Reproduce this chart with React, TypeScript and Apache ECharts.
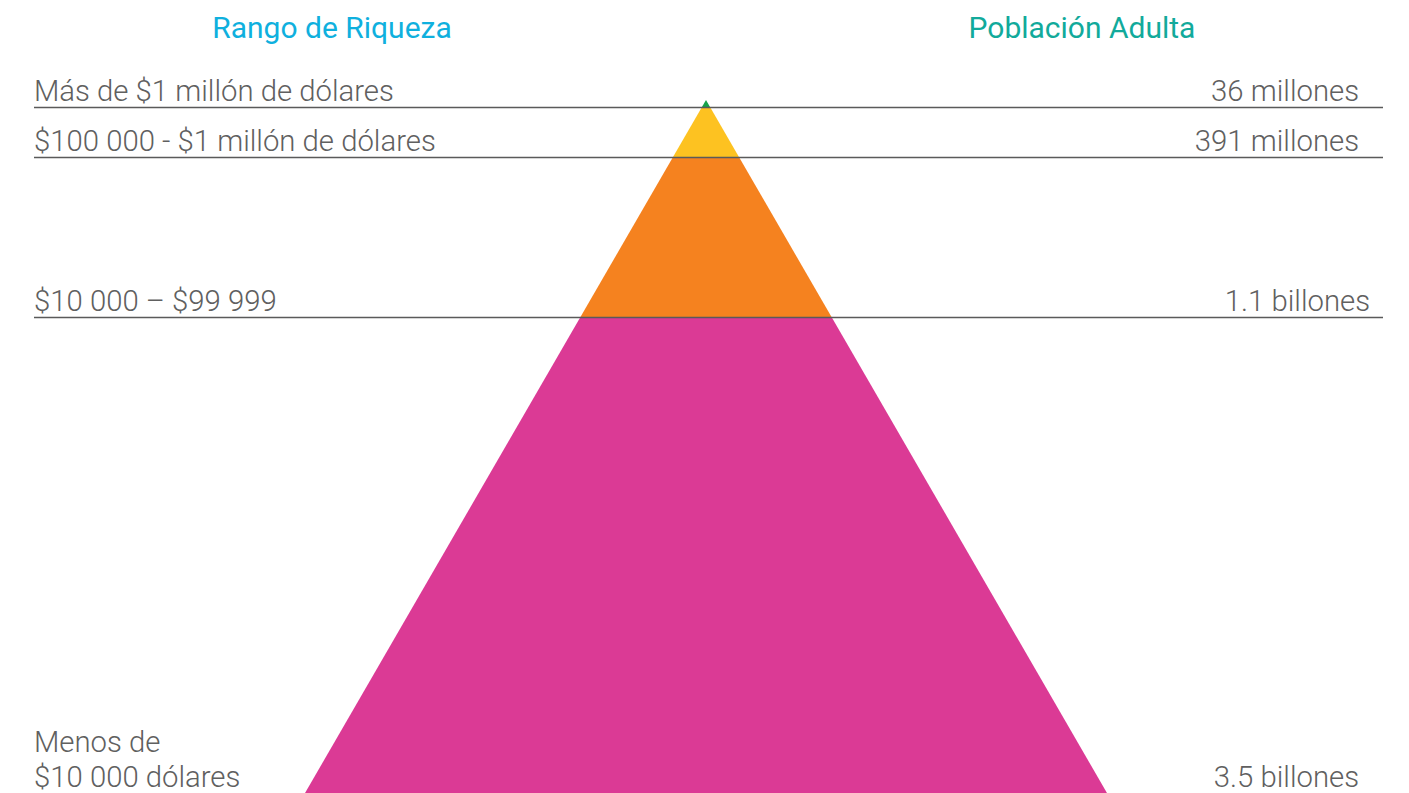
import React, { useEffect, useRef } from "react";
import * as echarts from "echarts";

// Wealth ranges (left labels), from top of the pyramid to the base
const wealthRanges = [
  "Más de $1 millón de dólares",
  "$100 000 - $1 millón de dólares",
  "$10 000 – $99 999",
  "Menos de\n$10 000 dólares",
];
// Adult population per range (right labels)
const adultPopulation = ["36 millones", "391 millones", "1.1 billones", "3.5 billones"];
// Visual thickness of each pyramid layer
const layerHeights = [7, 50, 160, 476];
const layerColors = ["#17a24a", "#fdc221", "#f5821f", "#db3a95"];
// Offset of the right label's right edge from the separator line end
const rightLabelShift = [0, 0, 11, 0];

const headers = ["Rango de Riqueza", "Población Adulta"];

const SLOPE = 0.5786; // half-width per unit of depth
const FONT = "Roboto";
const TEXT_COLOR = "#606060";

export default function App() {
  const ref = useRef<HTMLDivElement>(null);

  useEffect(() => {
    if (!ref.current) return;
    const chart = echarts.init(ref.current, undefined, { renderer: "svg" });

    let acc = 0;
    const data = layerHeights.map((h, i) => {
      const start = acc;
      acc += h;
      return [start, acc, i];
    });
    const total = acc;

    const renderItem = (params: any, api: any) => {
      const d0 = api.value(0);
      const d1 = api.value(1);
      const i = api.value(2);
      const cs = params.coordSys;
      const p0l = api.coord([-SLOPE * d0, d0]);
      const p0r = api.coord([SLOPE * d0, d0]);
      const p1r = api.coord([SLOPE * d1, d1]);
      const p1l = api.coord([-SLOPE * d1, d1]);
      const yB = p1l[1];
      const isLast = i === layerHeights.length - 1;
      const lineLeft = cs.x + 34;
      const lineRight = cs.x + cs.width - 26;
      const label = wealthRanges[i];
      const nLines = label.split("\n").length;
      const lh = 35;
      const children: any[] = [
        {
          type: "polygon",
          shape: { points: [p0l, p0r, p1r, p1l] },
          style: { fill: layerColors[i] },
        },
      ];
      if (!isLast) {
        children.push({
          type: "line",
          shape: { x1: lineLeft, y1: yB + 0.5, x2: lineRight, y2: yB + 0.5 },
          style: { stroke: "#5a5a5a", lineWidth: 1.3 },
          z2: 10,
        });
      }
      children.push({
        type: "text",
        z2: 20,
        style: {
          text: label,
          x: lineLeft,
          y: yB - 16 - ((nLines - 1) * lh) / 2,
          fill: TEXT_COLOR,
          fontFamily: FONT,
          fontWeight: 300,
          fontSize: 29.3,
          lineHeight: lh,
          align: "left",
          textAlign: "left",
          verticalAlign: "middle",
          textVerticalAlign: "middle",
        },
      });
      children.push({
        type: "text",
        z2: 20,
        style: {
          text: adultPopulation[i],
          x: lineRight - 24 + rightLabelShift[i],
          y: yB - 16,
          fill: TEXT_COLOR,
          fontFamily: FONT,
          fontWeight: 300,
          fontSize: 29.3,
          lineHeight: lh,
          align: "right",
          textAlign: "right",
          verticalAlign: "middle",
          textVerticalAlign: "middle",
        },
      });
      return { type: "group", children };
    };

    chart.setOption({
      animation: false,
      backgroundColor: "#ffffff",
      grid: { left: 0, right: 0, top: 100, bottom: 0 },
      xAxis: { type: "value", min: -706, max: 703, show: false },
      yAxis: { type: "value", min: 0, max: total, inverse: true, show: false },
      graphic: [
        {
          type: "text",
          x: 332,
          y: 27,
          style: {
            text: headers[0],
            fill: "#0fb0de",
            fontFamily: FONT,
            fontWeight: 400,
            fontSize: 30,
            align: "center",
            verticalAlign: "middle",
          },
        },
        {
          type: "text",
          x: 1082,
          y: 27,
          style: {
            text: headers[1],
            fill: "#12aa9b",
            fontFamily: FONT,
            fontWeight: 400,
            fontSize: 30,
            align: "center",
            verticalAlign: "middle",
          },
        },
      ],
      series: [
        {
          type: "custom",
          renderItem,
          data,
          clip: false,
        },
      ],
    });

    return () => chart.dispose();
  }, []);

  return (
    <div
      ref={ref}
      style={{ position: "absolute", left: 0, top: 0, width: 1409, height: 793 }}
    />
  );
}
